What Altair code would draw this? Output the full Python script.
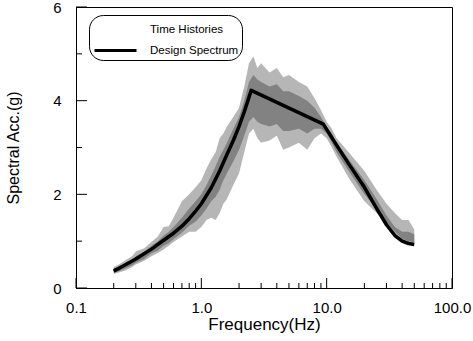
import altair as alt
import pandas as pd

# Time-history envelope (outer and inner/dense band)
freq = [0.2, 0.22, 0.25, 0.28, 0.3, 0.35, 0.4, 0.45, 0.5, 0.55, 0.6, 0.7, 0.8, 0.9,
        1.0, 1.1, 1.2, 1.3, 1.4, 1.5, 1.6, 1.8, 2.0, 2.2, 2.4, 2.6, 2.8, 3.0, 3.5,
        4.0, 4.5, 5.0, 6.0, 7.0, 8.0, 9.0, 10, 11, 12, 15, 20, 25, 30, 35, 40, 45, 50]
band_upper = [0.45, 0.5, 0.6, 0.68, 0.78, 0.85, 0.98, 1.1, 1.3, 1.32, 1.5, 1.85, 2.0, 2.15,
              2.3, 2.55, 2.75, 2.9, 3.2, 3.3, 3.45, 3.65, 3.85, 4.3, 4.8, 4.95, 4.7, 4.8, 4.6,
              4.7, 4.5, 4.55, 4.4, 4.3, 4.05, 3.8, 3.55, 3.4, 3.2, 2.9, 2.5, 2.1, 1.8, 1.6, 1.45, 1.45, 1.25]
band_lower = [0.3, 0.33, 0.38, 0.45, 0.5, 0.58, 0.68, 0.75, 0.82, 0.9, 0.98, 1.1, 1.2, 1.2,
              1.3, 1.45, 1.5, 1.45, 1.6, 1.8, 1.9, 2.2, 2.45, 2.9, 3.3, 3.4, 3.2, 3.1, 3.15,
              3.25, 2.95, 3.0, 3.1, 2.95, 3.2, 3.3, 3.2, 3.0, 2.8, 2.35, 1.85, 1.6, 1.38, 1.15, 1.02, 0.97, 0.95]
inner_upper = [0.42, 0.45, 0.54, 0.6, 0.68, 0.78, 0.9, 1.0, 1.12, 1.2, 1.3, 1.5, 1.7, 1.85,
               2.0, 2.2, 2.4, 2.6, 2.8, 2.95, 3.1, 3.4, 3.65, 4.0, 4.4, 4.55, 4.45, 4.4, 4.3,
               4.35, 4.2, 4.2, 4.1, 4.0, 3.85, 3.65, 3.45, 3.3, 3.1, 2.75, 2.3, 1.9, 1.55, 1.3, 1.2, 1.2, 1.15]
inner_lower = [0.33, 0.36, 0.42, 0.48, 0.54, 0.62, 0.74, 0.8, 0.9, 0.96, 1.04, 1.18, 1.33, 1.42,
               1.55, 1.7, 1.85, 1.95, 2.1, 2.3, 2.45, 2.7, 2.95, 3.25, 3.55, 3.65, 3.55, 3.5, 3.45,
               3.5, 3.35, 3.35, 3.4, 3.3, 3.4, 3.4, 3.3, 3.1, 2.9, 2.5, 2.0, 1.7, 1.4, 1.2, 1.05, 1.0, 0.97]

# Design spectrum
design_freq = [0.2, 0.25, 0.3, 0.4, 0.5, 0.6, 0.7, 0.8, 0.9, 1.0, 1.2, 1.4, 1.6, 1.8, 2.0, 2.2, 2.5,
               9.4, 12, 15, 20, 25, 30, 35, 40, 45, 50]
design_acc = [0.36, 0.5, 0.62, 0.83, 1.02, 1.17, 1.32, 1.48, 1.64, 1.8, 2.14, 2.5, 2.85, 3.15, 3.45, 3.76, 4.22,
              3.5, 3.05, 2.65, 2.15, 1.7, 1.35, 1.12, 1.0, 0.95, 0.93]

series_names = ["Time Histories", "Design Spectrum"]

x_major = [0.1, 1, 10, 100]
x_minor = [0.2, 0.3, 0.4, 0.5, 0.6, 0.7, 0.8, 0.9, 2, 3, 4, 5, 6, 7, 8, 9,
           20, 30, 40, 50, 60, 70, 80, 90]
y_major = [0, 2, 4, 6]
y_minor = [1, 3, 5]

W, H = 376, 281
FONT = "Liberation Sans"

band_df = pd.DataFrame({"f": freq, "hi": band_upper, "lo": band_lower,
                        "ihi": inner_upper, "ilo": inner_lower})
design_df = pd.DataFrame({"f": design_freq, "acc": design_acc,
                          "series": [series_names[1]] * len(design_freq)})

xscale = alt.Scale(type="log", domain=[0.1, 100])
yscale = alt.Scale(domain=[0, 6], nice=False, zero=False)

xaxis = alt.Axis(values=x_major, format=".1f", ticks=False, grid=False,
                 labelPadding=12, labelFontSize=15, labelFont=FONT, labelColor="black",
                 title="Frequency(Hz)", titleFont=FONT, titleFontSize=17,
                 titleFontWeight="normal", titleColor="black", titlePadding=1,
                 domainColor="black", labelFlush=False)
yaxis = alt.Axis(values=y_major, format="d", ticks=False, grid=False,
                 labelPadding=15, labelFontSize=15, labelFont=FONT, labelColor="black",
                 title="Spectral Acc.(g)", titleFont=FONT, titleFontSize=16,
                 titleFontWeight="normal", titleColor="black", titlePadding=31,
                 domainColor="black")

outer = alt.Chart(band_df).mark_area(color="#b6b6b6").encode(
    x=alt.X("f:Q", scale=xscale, axis=xaxis),
    y=alt.Y("hi:Q", scale=yscale, axis=yaxis),
    y2="lo:Q",
)
inner = alt.Chart(band_df).mark_area(color="#828282").encode(
    x=alt.X("f:Q", scale=xscale, axis=xaxis),
    y=alt.Y("ihi:Q", scale=yscale, axis=yaxis),
    y2="ilo:Q",
)
line = alt.Chart(design_df).mark_line(strokeWidth=3.5, strokeJoin="round").encode(
    x=alt.X("f:Q", scale=xscale, axis=xaxis),
    y=alt.Y("acc:Q", scale=yscale, axis=yaxis),
    color=alt.Color("series:N",
                    scale=alt.Scale(domain=series_names, range=["white", "black"]),
                    legend=alt.Legend(title=None, orient="none", legendX=13, legendY=8,
                                      symbolType="M-2.1,0H2.1", symbolStrokeWidth=3,
                                      symbolSize=400, symbolOffset=12,
                                      labelFont=FONT, labelFontSize=11.5,
                                      labelColor="black", labelOffset=23,
                                      labelExpr="datum.label + '\u00a0\u00a0\u00a0'",
                                      strokeColor="black", cornerRadius=14,
                                      padding=3, rowPadding=3)),
)

xmaj = alt.Chart(pd.DataFrame({"t": x_major})).mark_rule(color="black").encode(
    x=alt.X("t:Q", scale=xscale, axis=xaxis), y=alt.value(H), y2=alt.value(H - 10))
xmin = alt.Chart(pd.DataFrame({"t": x_minor})).mark_rule(color="black").encode(
    x=alt.X("t:Q", scale=xscale, axis=xaxis), y=alt.value(H), y2=alt.value(H - 5))
ymaj = alt.Chart(pd.DataFrame({"t": y_major})).mark_rule(color="black").encode(
    y=alt.Y("t:Q", scale=yscale, axis=yaxis), x=alt.value(0), x2=alt.value(11))
ymin = alt.Chart(pd.DataFrame({"t": y_minor})).mark_rule(color="black").encode(
    y=alt.Y("t:Q", scale=yscale, axis=yaxis), x=alt.value(0), x2=alt.value(6))

chart = alt.layer(outer, inner, line, xmaj, xmin, ymaj, ymin).properties(
    width=W, height=H,
    autosize=alt.AutoSizeParams(type="none"),
    padding={"left": 76, "top": 7, "right": 21, "bottom": 53},
    background="white",
).configure_view(stroke="black", strokeWidth=1)

chart.save("out.html", embed_options={"renderer": "svg", "actions": False})
